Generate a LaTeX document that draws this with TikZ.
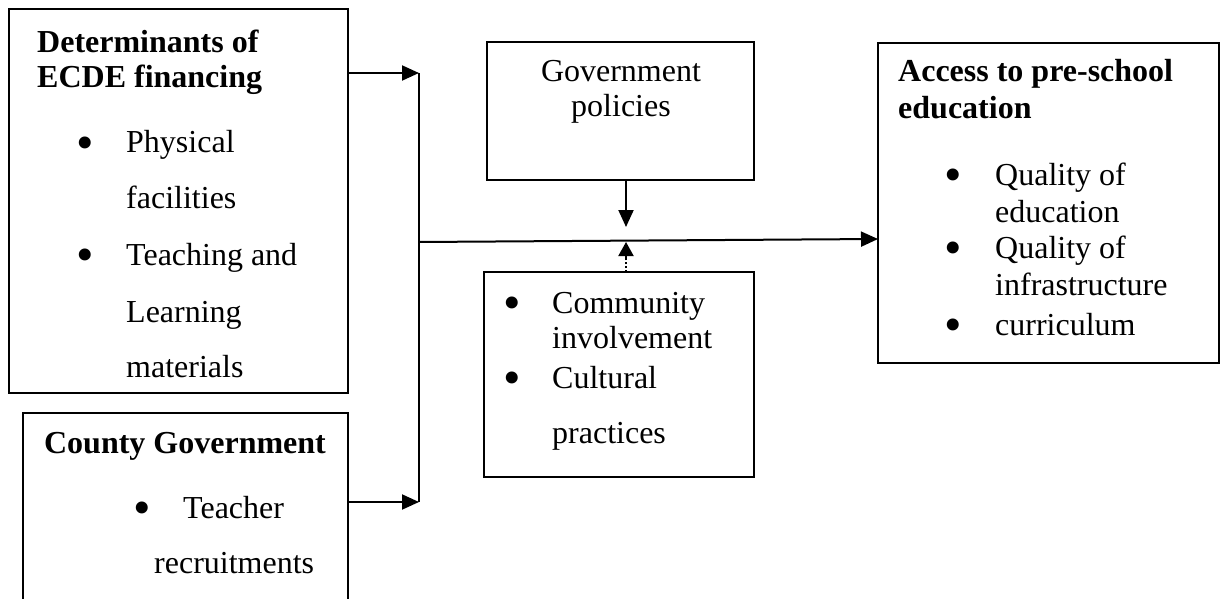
\documentclass[tikz,border=0pt]{standalone}
\usepackage{fontspec}
\setmainfont{Liberation Serif}
\usetikzlibrary{arrows.meta}
\begin{document}
\begin{tikzpicture}[x=1pt,y=-1pt,
  box/.style={draw=black, line width=1.3pt, inner sep=0pt, outer sep=0pt, anchor=north west},
  txt/.style={inner sep=0pt, anchor=base west, font=\fontsize{32}{37}\selectfont},
  ctxt/.style={inner sep=0pt, anchor=base, font=\fontsize{32}{37}\selectfont},
  btxt/.style={txt, font=\fontsize{32}{37}\selectfont\bfseries},
  bul/.style={inner sep=0pt, anchor=base, font=\fontsize{50}{37}\selectfont, yshift=-6pt},
  arr/.style={line width=2pt, -{Triangle[length=17pt,width=15pt]}},
  ln/.style={line width=2pt}
]
\useasboundingbox (0,0) rectangle (1220,599);
% boxes
\node[box, minimum width=339pt, minimum height=384pt] (b1) at (9,9) {};
\node[box, minimum width=325pt, minimum height=220pt] (b2) at (23,413) {};
\node[box, minimum width=267pt, minimum height=138pt] (gp) at (487,42) {};
\node[box, minimum width=270pt, minimum height=205pt] (cp) at (484,272) {};
\node[box, minimum width=341pt, minimum height=320pt] (ac) at (878,43) {};
% box 1 text
\node[btxt] (t1) at (37,53) {Determinants of};
\node[btxt] (t2) at (37,88) {ECDE financing};
\node[bul] (u1) at (85,153) {•};
\node[txt] (t3) at (126,153) {Physical};
\node[txt] (t4) at (126,208) {facilities};
\node[bul] (u2) at (85,265) {•};
\node[txt] (t5) at (126,265) {Teaching and};
\node[txt] (t6) at (126,322) {Learning};
\node[txt] (t7) at (126,377) {materials};
% box 2 text
\node[ctxt, font=\fontsize{32}{37}\selectfont\bfseries] (t8) at (185,453) {County Government};
\node[bul] (u3) at (142,518) {•};
\node[txt] (t9) at (183,518) {Teacher};
\node[txt] (t10) at (154,573) {recruitments};
% government policies
\node[ctxt] (t11) at (621,82) {Government};
\node[ctxt] (t12) at (621,117) {policies};
% community box
\node[bul] (u4) at (512,313) {•};
\node[txt] (t13) at (552,313) {Community};
\node[txt] (t14) at (552,348) {involvement};
\node[bul] (u5) at (512,388) {•};
\node[txt] (t15) at (552,388) {Cultural};
\node[txt] (t16) at (552,443) {practices};
% access box
\node[btxt] (t17) at (898,82) {Access to pre-school};
\node[btxt] (t18) at (898,118) {education};
\node[bul] (u6) at (953,185) {•};
\node[txt] (t19) at (995,185) {Quality of};
\node[txt] (t20) at (995,222) {education};
\node[bul] (u7) at (953,258) {•};
\node[txt] (t21) at (995,258) {Quality of};
\node[txt] (t22) at (995,295) {infrastructure};
\node[bul] (u8) at (953,335) {•};
\node[txt] (t23) at (995,335) {curriculum};
% connectors
\coordinate (j1) at (419,73);
\coordinate (j2) at (419,502);
\coordinate (j3) at (419,242);
\coordinate (e3) at (878,239);
\coordinate (d1) at (626,227);
\coordinate (d2) at (626,242);
\draw[arr] (b1.east |- j1) -- (j1);
\draw[arr] (b2.east |- j2) -- (j2);
\draw[ln] (j1) -- (j2);
\draw[arr] (j3) -- (e3);
\draw[arr] (gp.south -| d1) -- (d1);
\draw[line width=2pt, dash pattern=on 2pt off 2pt] (cp.north -| d2) -- (626,259);
\draw[line width=2pt, -{Triangle[length=14pt,width=15pt]}] (626,260) -- (d2);
\end{tikzpicture}
\end{document}
